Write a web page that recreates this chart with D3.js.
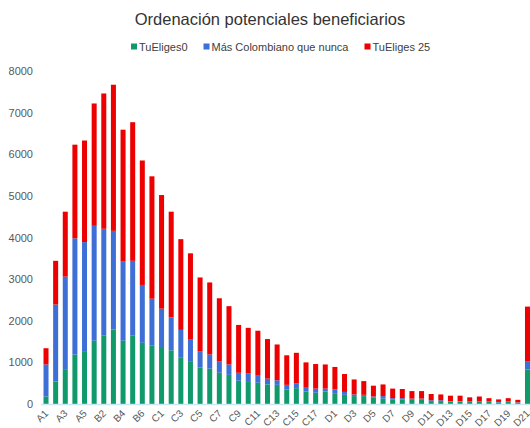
<!DOCTYPE html>
<html>
<head>
<meta charset="utf-8">
<script src="https://cdn.jsdelivr.net/npm/d3@7"></script>
<style>
body { margin: 0; background: #fff; }
svg { display: block; font-family: "Liberation Sans", Arial, sans-serif; }
.tick-y { font-size: 11px; fill: #595959; }
.tick-x { font-size: 10px; fill: #595959; }
.legend text { font-size: 11px; fill: #404040; }
.title { font-size: 16.5px; fill: #333; }
</style>
</head>
<body>
<div class="chart_div"></div>
<script>
var categories = ["A1","A2","A3","A4","A5",
	"B1","B2","B3","B4","B5","B6","B7",
	"C1","C2","C3","C4","C5","C6","C7","C8","C9","C10","C11","C12","C13","C14","C15","C16","C17","C18",
	"D1","D2","D3","D4","D5","D6","D7","D8","D9","D10","D11","D12","D13","D14","D15","D16","D17","D18","D19","D20","D21"];
var tuEliges0 = [180,540,820,1190,1270,
	1520,1650,1790,1520,1650,1470,1400,
	1370,1290,1110,1030,880,850,750,700,560,550,510,470,460,350,380,300,270,300,
	260,220,190,190,150,130,110,110,100,100,70,70,60,60,50,50,50,40,50,30,830];
var masColombiano = [770,1850,2240,2790,2620,
	2760,2560,2370,1900,1790,1390,1130,
	920,790,670,530,390,340,280,250,190,180,170,140,110,110,120,90,100,70,
	90,70,40,30,30,60,30,30,30,30,20,20,10,10,10,10,10,10,10,10,200];
var tuEliges25 = [390,1050,1560,2250,2440,
	2940,3250,3510,3170,3330,2990,2940,
	2730,2540,2180,2060,1770,1730,1510,1400,1150,1100,1080,950,860,710,730,610,590,580,
	540,430,360,330,260,280,230,220,180,180,150,140,130,130,100,120,80,60,80,60,1310];
var seriesNames = ["TuEliges0","Más Colombiano que nunca","TuEliges 25"];
var seriesColors = ["#109a6b","#3d6fd6","#ec0000"];
var yTicks = [0,1000,2000,3000,4000,5000,6000,7000,8000];

var width = 530, height = 428;

var svg = d3.select(".chart_div").append("svg")
	.attr("width", width)
	.attr("height", height);

var rows = categories.map(function(c, i){
	return {cat: c, s0: tuEliges0[i], s1: masColombiano[i], s2: tuEliges25[i]};
});
var stacked = d3.stack().keys(["s0","s1","s2"])(rows);

var x = d3.scaleBand()
	.domain(categories)
	.range([41.2, 532.3])
	.paddingInner(0.48)
	.paddingOuter(0.24);

var y = d3.scaleLinear()
	.domain([0, 8000])
	.range([404, 71]);

// title
svg.append("text")
	.attr("class","title")
	.attr("x", 270)
	.attr("y", 25)
	.attr("text-anchor","middle")
	.text("Ordenación potenciales beneficiarios");

// legend
var legend = svg.append("g").attr("class","legend");
var lx = 131;
seriesNames.forEach(function(name, i){
	legend.append("rect")
		.attr("x", lx)
		.attr("y", 43.5)
		.attr("width", 6)
		.attr("height", 6)
		.attr("fill", seriesColors[i]);
	var t = legend.append("text")
		.attr("x", lx + 8)
		.attr("y", 50.5)
		.text(name);
	lx += 8 + t.node().getComputedTextLength() + 16;
});

// y axis
var yAxis = d3.axisLeft(y).tickValues(yTicks).tickFormat(d3.format("d")).tickSize(0).tickPadding(0);
svg.append("g")
	.attr("transform","translate(33,0)")
	.call(yAxis)
	.call(function(g){
		g.select(".domain").remove();
		g.selectAll("text").attr("class","tick-y").attr("fill", null).style("font-size","11px");
	});

// bars
svg.selectAll("g.series")
	.data(stacked)
	.enter()
	.append("g")
	.attr("class","series")
	.attr("fill", function(d,i){ return seriesColors[i]; })
	.selectAll("rect")
	.data(function(d){ return d; })
	.enter()
	.append("rect")
	.attr("x", function(d){ return x(d.data.cat); })
	.attr("width", x.bandwidth())
	.attr("y", function(d){ return y(d[1]); })
	.attr("height", function(d){ return y(d[0]) - y(d[1]); });

// x axis baseline and labels
var xAxis = d3.axisBottom(x)
	.tickValues(categories.filter(function(d,i){ return i % 2 == 0; }))
	.tickSize(0)
	.tickPadding(0);
svg.append("g")
	.attr("transform","translate(0,404)")
	.call(xAxis)
	.call(function(g){
		g.select(".domain")
			.attr("d","M41,0.5H530")
			.attr("stroke","#cbe6f4")
			.attr("stroke-width",1.5);
		g.selectAll("text")
			.attr("class","tick-x")
			.attr("fill", null)
			.style("font-size","10px")
			.attr("text-anchor","end")
			.attr("dy", null)
			.attr("y", 0)
			.attr("transform","translate(3,10) rotate(-45)");
	});
</script>
</body>
</html>
